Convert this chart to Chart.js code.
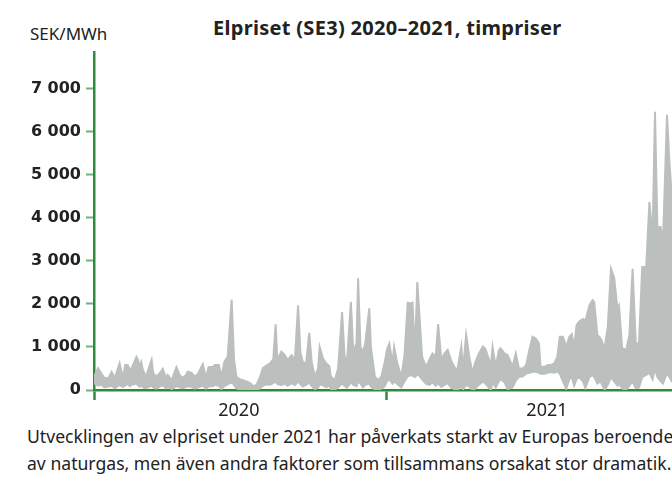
<!DOCTYPE html>
<html lang="sv">
<head>
<meta charset="utf-8">
<script src="https://cdn.jsdelivr.net/npm/chart.js@4.4.1/dist/chart.umd.min.js"></script>
<style>
  html, body { margin: 0; padding: 0; background: #fff; }
  body { width: 672px; height: 496px; overflow: hidden; position: relative; font-family: "Noto Sans", sans-serif; }
  #wrap { position: absolute; left: 0; top: 0; width: 720px; height: 420px; }
  #unit { position: absolute; left: 30px; top: 22px; font-size: 17px; color: #222; }
  #title { position: absolute; left: 213px; top: 14px; font-size: 20px; letter-spacing: 0.3px; font-weight: bold; color: #222; white-space: nowrap; }
  #caption { position: absolute; left: 27px; top: 423px; width: 760px; font-size: 17.6px; line-height: 27px; color: #222; white-space: nowrap; }
</style>
</head>
<body>
<div id="unit">SEK/MWh</div>
<div id="title">Elpriset (SE3) 2020–2021, timpriser</div>
<div id="wrap"><canvas id="elChart" width="720" height="420"></canvas></div>
<div id="caption">Utvecklingen av elpriset under 2021 har påverkats starkt av Europas beroende<br>av naturgas, men även andra faktorer som tillsammans orsakat stor dramatik.</div>
<script>
// dag 0 = 1 jan 2020, dag 366 = 1 jan 2021, dag 731 = 1 jan 2022
var dagar = [0,5,9,13,18,22,26,32,36,39,42,45,47,53,55,57,59,61,65,72,74,78,82,86,90,92,97,103,107,111,115,117,122,126,130,136,140,143,149,151,156,159,163,167,172,175,178,182,186,190,195,199,203,207,211,215,220,224,227,229,234,238,242,247,251,255,258,261,265,269,272,276,280,282,286,290,294,296,301,305,310,313,316,321,324,328,330,333,336,339,344,346,351,355,359,363,366,369,373,375,379,384,388,392,396,398,401,404,406,410,415,419,423,427,430,434,438,442,446,450,454,459,461,465,469,473,476,481,486,489,496,498,502,506,508,513,517,523,527,531,536,540,544,548,552,556,558,563,567,571,575,579,582,586,590,594,597,600,603,606,611,614,619,623,625,629,633,638,642,646,650,654,656,660,665,669,673,677,681,685,690,694,698,701,704,708,711,716,719,722,726,731];
// högsta timpris i intervallet (SEK/MWh)
var hogst = [310,510,390,280,280,420,280,620,280,580,580,470,500,770,700,530,650,470,310,700,390,310,390,490,280,350,230,530,350,280,350,425,400,310,380,600,280,530,540,580,580,310,660,770,2100,700,310,250,230,200,160,90,120,280,510,560,620,720,1530,700,890,820,700,810,700,1970,860,650,620,1330,650,310,500,1000,740,620,560,310,230,500,1810,810,620,2050,880,1090,2600,1000,880,1090,1900,1000,310,230,310,620,930,1080,620,1000,620,310,810,2030,2010,2030,850,2510,1930,770,540,700,850,770,1530,700,850,930,700,540,460,1010,460,1280,770,390,620,850,1010,960,580,1000,540,930,970,850,810,540,850,500,500,580,930,1240,1200,1080,540,540,580,580,620,770,1240,1240,1000,1240,1300,1000,1510,1590,1650,1600,1970,2090,2050,1280,1200,970,1470,2820,2610,1900,1970,970,930,1280,2820,1080,1080,2860,2860,4370,3560,6470,3790,3790,3440,6400,5300,4500,3200,2600];
// lägsta timpris i intervallet (SEK/MWh)
var lagst = [160,100,120,60,80,100,40,120,70,100,140,90,120,150,110,80,120,60,40,100,60,30,80,110,40,70,20,90,60,40,70,90,70,30,60,100,30,80,90,120,100,20,90,130,180,120,40,20,10,10,5,0,10,30,100,130,120,160,200,140,110,150,100,160,110,200,130,80,120,170,90,20,60,130,110,60,100,20,10,60,150,100,50,180,120,90,200,150,60,120,150,80,10,0,30,80,200,250,150,200,140,60,200,320,350,330,300,360,340,250,140,120,180,100,160,70,120,160,60,20,0,90,10,120,80,0,30,120,200,150,0,180,60,200,250,180,20,60,220,300,320,380,400,420,430,400,380,380,400,420,400,430,380,200,30,250,300,100,250,300,200,50,300,350,300,150,200,0,120,300,200,100,150,30,0,100,200,40,60,300,350,400,250,500,300,200,150,400,300,200,150,200];
var yTicks = [0,1000,2000,3000,4000,5000,6000,7000];
var arLabels = { 181: '2020', 566: '2021' };
var arGranser = [0, 366, 731];

var gra = '#bbbfbe';
var gron = '#2e8b40';

function punkter(vals){
  var p = [];
  for(var i = 0; i < dagar.length; i++){
    p.push({x: dagar[i], y: vals[i]});
  }
  return p;
}

var chart = new Chart(document.getElementById('elChart'), {
  type: 'line',
  data: {
    datasets: [
      { label: 'högst', data: punkter(hogst), borderColor: gra, backgroundColor: gra, borderWidth: 2, pointRadius: 0, fill: '+1', tension: 0 },
      { label: 'lägst', data: punkter(lagst), borderColor: gra, backgroundColor: gra, borderWidth: 2, pointRadius: 0, fill: false, tension: 0 }
    ]
  },
  options: {
    responsive: false,
    animation: false,
    events: [],
    layout: { padding: { top: 52, right: 41, left: 0, bottom: 0 } },
    plugins: { legend: { display: false }, tooltip: { enabled: false } },
    scales: {
      x: {
        type: 'linear',
        min: 0,
        max: 731,
        afterBuildTicks: function(scale){
          scale.ticks = [0, 181, 366, 566, 731].map(function(v){ return {value: v}; });
        },
        afterFit: function(scale){ scale.height = 30; },
        border: { display: true, color: gron, width: 2.5 },
        grid: {
          drawOnChartArea: false,
          drawTicks: true,
          tickLength: 10,
          tickWidth: 2.5,
          tickColor: function(ctx){
            return (ctx.tick && arGranser.indexOf(ctx.tick.value) >= 0) ? gron : 'rgba(0,0,0,0)';
          }
        },
        ticks: {
          autoSkip: false,
          maxRotation: 0,
          padding: 0,
          color: '#222',
          font: { family: 'Noto Sans', size: 18 },
          callback: function(v){ return arLabels[v] || ''; }
        }
      },
      y: {
        min: 0,
        max: 7860,
        afterBuildTicks: function(scale){
          scale.ticks = yTicks.map(function(v){ return {value: v}; });
        },
        afterFit: function(scale){ scale.width = 94; },
        border: { display: true, color: gron, width: 2.5 },
        grid: {
          drawOnChartArea: false,
          tickLength: 8,
          tickWidth: 2,
          tickColor: '#6cb27b'
        },
        ticks: {
          padding: 5,
          color: '#222',
          font: { family: 'DejaVu Sans', size: 16, weight: 'bold' },
          callback: function(v){ return String(v).replace(/\B(?=(\d{3})+(?!\d))/g, ' '); }
        }
      }
    }
  }
});
</script>
</body>
</html>
